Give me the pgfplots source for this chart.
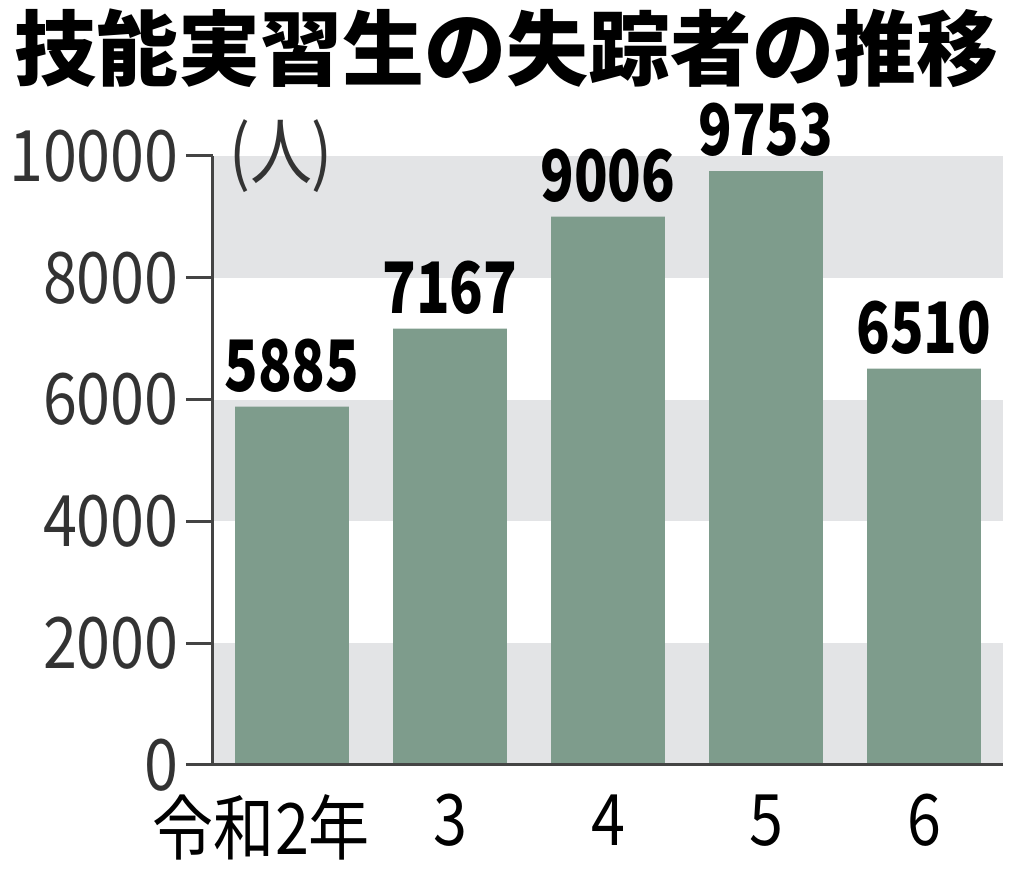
\documentclass[border=0pt]{standalone}
\usepackage{fontspec}
\usepackage{pgfplots}
\pgfplotsset{compat=1.18}
\setmainfont{Noto Sans CJK JP}
\newfontfamily\tickfont[FakeStretch=0.86]{Noto Sans CJK JP}
\newfontfamily\valfont[FakeStretch=0.78]{Noto Sans CJK JP}
\definecolor{barc}{HTML}{7E9C8C}
\definecolor{bandc}{HTML}{E3E4E6}
\definecolor{axisc}{HTML}{444444}
\definecolor{tickc}{HTML}{333333}
\begin{document}
\begin{tikzpicture}
\path[use as bounding box] (-106.5pt,-55.5pt) rectangle (405.5pt,382.5pt);
\node[font=\bfseries\fontsize{41}{41}\selectfont, text=black, anchor=center, inner sep=0pt] at (147pt,358.5pt) {技能実習生の失踪者の推移};
\begin{axis}[
  at={(0,0)}, anchor=south west,
  width=395pt, height=304.5pt, scale only axis,
  xmin=-0.5, xmax=4.5, ymin=0, ymax=10000,
  enlargelimits=false, clip=false, axis on top,
  axis x line*=bottom, axis y line*=left,
  axis line style={draw=axisc, line width=1.5pt, -},
  tick align=outside,
  major tick length=13.5pt,
  scaled y ticks=false,
  ytick={0,2000,4000,6000,8000,10000},
  ytick style={draw=axisc, line width=1.5pt},
  xtick={0,1,2,3,4}, xtick style={draw=none},
  xticklabels={\llap{令和}2\rlap{年},3,4,5,6},
  /pgf/number format/1000 sep={},
  /pgf/number format/assume math mode=true,
  yticklabel style={font=\tickfont\fontsize{35.5}{36}\selectfont, text=tickc, anchor=east, inner sep=0pt, xshift=-3.5pt},
  xticklabel style={font=\tickfont\fontsize{35.5}{36}\selectfont, text=black, anchor=north, inner sep=0pt, yshift=-1pt},
]
\addplot[fill=bandc, draw=none, sharp plot, forget plot] coordinates {(-0.5,0) (4.5,0) (4.5,2000) (-0.5,2000)} -- cycle;
\addplot[fill=bandc, draw=none, sharp plot, forget plot] coordinates {(-0.5,4000) (4.5,4000) (4.5,6000) (-0.5,6000)} -- cycle;
\addplot[fill=bandc, draw=none, sharp plot, forget plot] coordinates {(-0.5,8000) (4.5,8000) (4.5,10000) (-0.5,10000)} -- cycle;
\addplot[ybar, bar width=0.72, fill=barc, draw=none,
  nodes near coords,
  nodes near coords style={font=\valfont\bfseries\fontsize{35.5}{36}\selectfont, text=black, anchor=south, inner sep=0pt, yshift=7pt}]
  coordinates {(0,5885) (1,7167) (2,9006) (3,9753) (4,6510)};
\node[font=\tickfont\fontsize{36}{36}\selectfont, text=tickc, anchor=center, inner sep=0pt, xshift=34pt] at (rel axis cs:0,1) {(人)};
\end{axis}
\end{tikzpicture}
\end{document}
